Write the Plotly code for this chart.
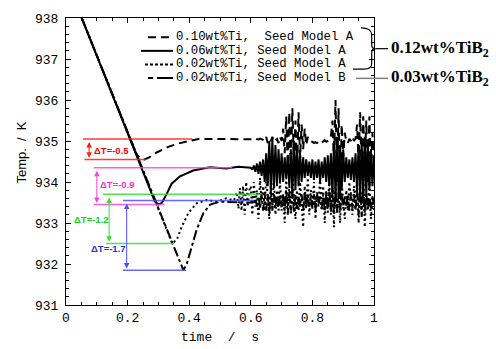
import plotly.graph_objects as go

# ---- measured cooling curves (time in s, temperature in K) ----
# smooth part of each curve (cooling + recalescence)
t_a10 = [0.051, 0.228, 0.240, 0.255, 0.270, 0.294, 0.330, 0.360, 0.400, 0.430, 0.500, 0.550, 0.595]
y_a10 = [938.0, 934.69, 934.58, 934.55, 934.6, 934.72, 934.85, 934.93, 935.0, 935.05, 935.05, 935.05, 935.04]

t_a06 = [0.051, 0.288, 0.300, 0.312, 0.325, 0.343, 0.370, 0.413, 0.467, 0.520, 0.560, 0.595]
y_a06 = [938.0, 933.53, 933.45, 933.5, 933.68, 933.96, 934.14, 934.28, 934.36, 934.33, 934.37, 934.34]

t_a02 = [0.051, 0.330, 0.345, 0.360, 0.376, 0.397, 0.424, 0.457, 0.490, 0.520, 0.545,
         0.555, 0.560, 0.565, 0.570, 0.575, 0.580, 0.585, 0.590, 0.595]
y_a02 = [938.0, 932.8, 932.5, 932.6, 932.91, 933.24, 933.48, 933.56, 933.52, 933.6, 933.55,
         933.75, 933.35, 933.85, 933.3, 933.9, 933.2, 934.0, 933.4, 933.8]

t_b02 = [0.051, 0.368, 0.381, 0.392, 0.403, 0.424, 0.446, 0.468, 0.500, 0.550, 0.595]
y_b02 = [938.0, 932.1, 931.85, 932.0, 932.27, 932.83, 933.24, 933.45, 933.52, 933.5, 933.5]

# fluctuating part after the plateau, sampled every 5 ms
t_fluct = [0.600, 0.605, 0.610, 0.615, 0.620, 0.625, 0.630, 0.635, 0.640, 0.645,
           0.650, 0.655, 0.660, 0.665, 0.670, 0.675, 0.680, 0.685, 0.690, 0.695,
           0.700, 0.705, 0.710, 0.715, 0.720, 0.725, 0.730, 0.735, 0.740, 0.745,
           0.750, 0.755, 0.760, 0.765, 0.770, 0.775, 0.780, 0.785, 0.790, 0.795,
           0.800, 0.805, 0.810, 0.815, 0.820, 0.825, 0.830, 0.835, 0.840, 0.845,
           0.850, 0.855, 0.860, 0.865, 0.870, 0.875, 0.880, 0.885, 0.890, 0.895,
           0.900, 0.905, 0.910, 0.915, 0.920, 0.925, 0.930, 0.935, 0.940, 0.945,
           0.950, 0.955, 0.960, 0.965, 0.970, 0.975, 0.980, 0.985, 0.990, 0.995, 1.000]

f_a10 = [935.05, 935.04, 935.06, 935.05, 935.05, 935.04, 935.06, 935.05, 935.03,
         935.0, 935.1, 934.95, 935.05, 935.0, 935.1, 934.98, 935.02, 935.05, 934.95, 935.1, 935.0,
         935.3, 934.7, 935.6, 934.4, 935.7, 934.3, 935.8, 934.5, 935.5, 934.2, 935.7, 934.6,
         935.4, 934.8, 935.3, 934.9, 935.1, 935.0,
         935.0, 934.98, 934.95, 934.97, 934.95, 934.98, 935.0, 934.96, 935.0, 935.02, 934.98,
         935.0, 935.05, 935.1,
         935.5, 934.5, 936.0, 934.0, 935.8, 933.6, 935.4, 934.6, 935.2,
         935.0, 934.95, 935.05, 935.0, 935.1, 935.0, 935.05,
         935.4, 934.5, 935.7, 934.2, 935.6, 934.4, 935.5, 934.0, 935.6, 934.3, 935.2, 934.5]

f_a06 = [934.35, 934.3, 934.4, 934.25, 934.45, 934.2, 934.5, 934.15, 934.55,
         934.0, 934.7, 933.9, 935.0, 933.8, 935.05, 933.85, 934.9, 933.9, 934.8, 934.0, 934.7,
         934.0, 934.6, 934.1, 934.6, 933.9, 934.8, 933.7, 935.0, 933.8, 934.9, 933.9, 934.7,
         934.0, 934.6, 934.1, 934.55, 934.15, 934.5,
         934.1, 934.55, 934.05, 934.5, 934.1, 934.55, 934.0, 934.5, 934.1, 934.6, 934.0,
         934.65, 933.9, 934.7,
         933.7, 935.0, 933.6, 935.1, 933.7, 934.9, 933.8, 934.8, 934.0,
         934.6, 934.1, 934.55, 934.05, 934.6, 934.0, 934.7,
         933.8, 934.9, 933.7, 935.0, 933.6, 935.1, 933.7, 934.9, 933.8, 934.8, 933.9, 934.6]

f_a02 = [933.9, 933.2, 934.0, 933.4, 933.8, 933.1, 934.1, 933.5, 933.9,
         933.3, 934.2, 933.6, 933.1, 933.9, 933.4, 934.1, 933.2, 933.8, 933.5, 934.0, 933.3,
         933.7, 933.0, 934.1, 933.4, 933.9, 933.2, 934.2, 933.6, 933.1, 933.8, 933.3, 934.0,
         933.5, 932.9, 933.9, 933.4, 934.1, 933.2,
         933.8, 933.4, 934.0, 933.1, 933.7, 933.5, 934.1, 933.3, 933.9, 933.0, 933.8,
         933.4, 934.0, 933.2,
         933.9, 932.9, 934.2, 933.3, 933.7, 933.0, 934.0, 933.5, 933.1,
         933.8, 933.3, 934.0, 933.6, 933.2, 933.9, 933.4,
         934.1, 933.0, 933.8, 933.3, 934.2, 932.9, 933.7, 933.4, 934.0, 933.1, 933.6, 933.3]

f_b02 = [933.5, 933.55, 933.45, 933.6, 933.4, 933.65, 933.35, 933.7, 933.3,
         933.75, 933.3, 933.7, 933.25, 933.8, 933.3, 933.7, 933.35, 933.75, 933.3, 933.7, 933.4,
         933.7, 933.3, 933.8, 933.2, 933.75, 933.3, 933.8, 933.25, 933.7, 933.35, 933.65, 933.4,
         933.7, 933.3, 933.75, 933.35, 933.7, 933.4,
         933.65, 933.35, 933.7, 933.3, 933.75, 933.4, 933.65, 933.35, 933.7, 933.3, 933.75,
         933.25, 933.8, 933.3,
         933.85, 933.2, 933.8, 933.25, 933.75, 933.3, 933.7, 933.35, 933.65,
         933.4, 933.7, 933.3, 933.75, 933.35, 933.7, 933.3,
         933.8, 933.2, 933.85, 933.15, 933.8, 933.25, 933.75, 933.3, 933.7, 933.35, 933.65, 933.4]

series_names = ["0.10wt%Ti,  Seed Model A", "0.06wt%Ti, Seed Model A",
                "0.02wt%Ti, Seed Model A", "0.02wt%Ti, Seed Model B"]

# ---- undercooling marks: plateau temperature and undercooling for each curve ----
dT_values = [-0.5, -0.9, -1.2, -1.7]
plateau_T = [935.05, 934.35, 933.7, 933.55]
dT_colors = ["#ff1a1a", "#ff44dd", "#33dd33", "#4d4dff"]
dT_text_colors = ["#ff0000", "#ff33cc", "#22cc22", "#2233ee"]
top_span = [(0.055, 0.41), (0.09, 0.54), (0.12, 0.63), (0.185, 0.61)]
bot_span = [(0.06, 0.26), (0.09, 0.32), (0.13, 0.35), (0.185, 0.39)]
arrow_t = [0.075, 0.10, 0.14, 0.197]
label_pos = [(0.084, 934.77), (0.104, 933.94), (0.019, 933.08), (0.075, 932.38)]

# ---- figure geometry (pixels) ----
W, H = 496, 349
L, R, T, B = 66, 374, 15, 305


def pxx(x):
    return (x - L) / (R - L)


def pxy(y):
    return (B - y) / (B - T)


fig = go.Figure()

curves = [
    (t_b02 + t_fluct, y_b02 + f_b02, "10px,3px,3px,3px"),
    (t_a02 + t_fluct, y_a02 + f_a02, "2px,3px"),
    (t_a06 + t_fluct, y_a06 + f_a06, "solid"),
    (t_a10 + t_fluct, y_a10 + f_a10, "8px,5px"),
]
for tx, ty, dash in curves:
    fig.add_trace(go.Scatter(x=tx, y=ty, mode="lines",
                             line=dict(color="black", width=2, dash=dash),
                             showlegend=False, hoverinfo="skip"))

shapes = []
annotations = []

# undercooling reference lines, double arrows and labels
for dT, Tp, col, tcol, ts, bs, ax_t, lp in zip(dT_values, plateau_T, dT_colors, dT_text_colors,
                                               top_span, bot_span, arrow_t, label_pos):
    Tmin = Tp + dT
    shapes.append(dict(type="line", xref="x", yref="y", x0=ts[0], x1=ts[1], y0=Tp, y1=Tp,
                       line=dict(color=col, width=1.5), opacity=0.85, layer="above"))
    shapes.append(dict(type="line", xref="x", yref="y", x0=bs[0], x1=bs[1], y0=Tmin, y1=Tmin,
                       line=dict(color=col, width=1.5), opacity=0.85, layer="above"))
    annotations.append(dict(x=ax_t, y=Tmin + 0.04, ax=ax_t, ay=Tp - 0.04, xref="x", yref="y",
                            axref="x", ayref="y", text="", showarrow=True,
                            arrowside="end+start", arrowhead=2, arrowsize=1.1,
                            arrowwidth=1, arrowcolor=col, standoff=0, startstandoff=0))
    annotations.append(dict(x=lp[0], y=lp[1], xref="x", yref="y", xanchor="left",
                            yanchor="middle", showarrow=False,
                            text="<b>\u0394T=%.1f</b>" % dT,
                            font=dict(family="Liberation Sans", size=9.5, color=tcol)))

# hand-drawn style legend
legend_rows_y = [34.5, 48.2, 61.9, 75.6]
legend_dash = ["8px,5px", "solid", "3px,2px", "5px,4px,12px,0px"]
legend_x0 = [148, 141, 145, 148]
for name, ry, dsh, x0 in zip(series_names, legend_rows_y, legend_dash, legend_x0):
    shapes.append(dict(type="line", xref="paper", yref="paper", x0=pxx(x0), x1=pxx(173),
                       y0=pxy(ry), y1=pxy(ry), line=dict(color="black", width=2, dash=dsh)))
    annotations.append(dict(x=pxx(174), y=pxy(ry), xref="paper", yref="paper",
                            xanchor="left", yanchor="middle", showarrow=False,
                            text=name.replace(" ", "&nbsp;"),
                            font=dict(family="Liberation Mono", size=12.3, color="black")))

# brace grouping the three Seed Model A rows
pts = [(361, 25), (371.7, 25), (371.7, 32), (371.7, 42), (371.7, 46), (375.5, 46),
       (371.7, 46), (371.7, 50), (371.7, 61), (371.7, 66.7), (364, 66.7), (353, 66.7)]
P = [(pxx(a), pxy(b)) for a, b in pts]
path = ("M {0[0]},{0[1]} Q {1[0]},{1[1]} {2[0]},{2[1]} L {3[0]},{3[1]} "
        "Q {4[0]},{4[1]} {5[0]},{5[1]} Q {6[0]},{6[1]} {7[0]},{7[1]} "
        "L {8[0]},{8[1]} Q {9[0]},{9[1]} {10[0]},{10[1]} L {11[0]},{11[1]}").format(*P)
shapes.append(dict(type="path", xref="paper", yref="paper", path=path,
                   line=dict(color="black", width=1.2)))
shapes.append(dict(type="line", xref="paper", yref="paper", x0=pxx(375.5), x1=pxx(388),
                   y0=pxy(46), y1=pxy(46), line=dict(color="black", width=1.2)))
shapes.append(dict(type="line", xref="paper", yref="paper", x0=pxx(356), x1=pxx(388),
                   y0=pxy(76), y1=pxy(76), line=dict(color="#808080", width=1.5)))

for txt, ry in [("0.12wt%TiB<sub>2</sub>", 46), ("0.03wt%TiB<sub>2</sub>", 76)]:
    annotations.append(dict(x=pxx(389), y=pxy(ry), xref="paper", yref="paper",
                            xanchor="left", yanchor="middle", showarrow=False,
                            text="<b>" + txt + "</b>",
                            font=dict(family="Liberation Serif", size=17, color="black")))

# axis titles
annotations.append(dict(x=0.5, y=pxy(338), xref="paper", yref="paper", showarrow=False,
                        xanchor="center", yanchor="middle", text="time&nbsp;&nbsp;/&nbsp;&nbsp;s",
                        font=dict(family="Liberation Mono", size=13, color="black")))
annotations.append(dict(x=pxx(22), y=pxy(151), xref="paper", yref="paper", showarrow=False,
                        xanchor="center", yanchor="middle", textangle=-90,
                        text="Temp.&nbsp;&nbsp;/&nbsp;&nbsp;K",
                        font=dict(family="Liberation Sans", size=13, color="black")))

axis_common = dict(showline=True, linecolor="black", linewidth=1, mirror="ticks",
                   ticks="inside", ticklen=5, tickwidth=1, tickcolor="black",
                   showgrid=False, zeroline=False,
                   tickfont=dict(family="Liberation Mono", size=13, color="black"))

fig.update_xaxes(range=[0, 1], dtick=0.2, tick0=0,
                 minor=dict(ticks="inside", dtick=0.05, ticklen=3, tickcolor="black", showgrid=False),
                 **axis_common)
fig.update_yaxes(range=[931, 938], dtick=1, tick0=931,
                 minor=dict(ticks="inside", dtick=0.2, ticklen=3, tickcolor="black", showgrid=False),
                 ticklabelstandoff=4, **axis_common)

fig.update_layout(width=W, height=H, margin=dict(l=L, r=W - R, t=T, b=H - B),
                  paper_bgcolor="white", plot_bgcolor="white",
                  shapes=shapes, annotations=annotations, showlegend=False)

fig.write_html("out.html")
